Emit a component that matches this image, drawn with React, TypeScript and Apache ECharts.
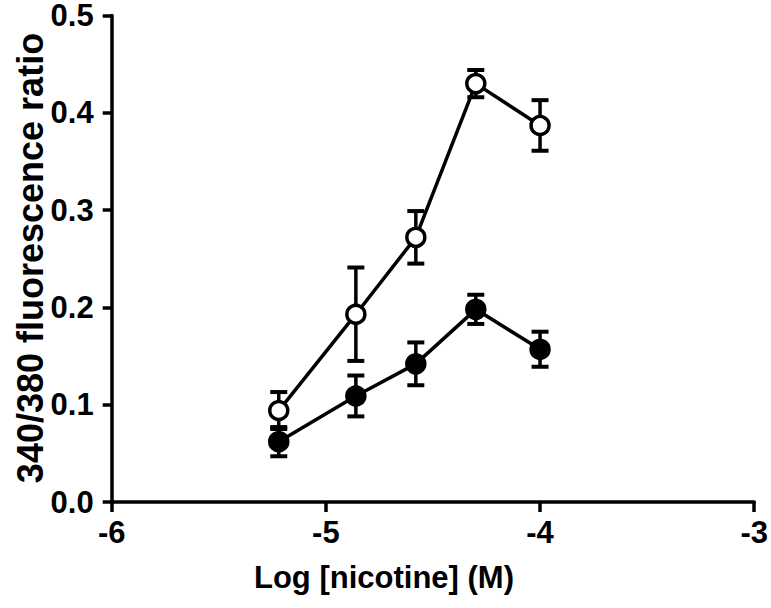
import React, { useEffect, useRef } from "react";
import * as echarts from "echarts";

const xValues = [-5.22, -4.86, -4.58, -4.3, -4.0];
const openMean = [0.094, 0.193, 0.272, 0.43, 0.387];
const openErr = [0.019, 0.048, 0.027, 0.014, 0.026];
const filledMean = [0.062, 0.109, 0.142, 0.198, 0.157];
const filledErr = [0.015, 0.021, 0.022, 0.015, 0.018];
const xTitle = "Log [nicotine] (M)";
const yTitle = "340/380 fluorescence ratio";

const FONT = '"Liberation Sans", Arial, sans-serif';

function errorSeries(mean: number[], err: number[]) {
  const data = xValues.map((x, i) => [x, mean[i] - err[i], mean[i] + err[i]]);
  return {
    type: "custom",
    z: 1,
    silent: true,
    data,
    renderItem: (params: any, api: any) => {
      const x = api.value(0);
      const lo = api.coord([x, api.value(1)]);
      const hi = api.coord([x, api.value(2)]);
      const hw = 8.5;
      const style = { stroke: "#000", lineWidth: 4, fill: "none" };
      return {
        type: "group",
        children: [
          { type: "line", shape: { x1: lo[0], y1: lo[1], x2: hi[0], y2: hi[1] }, style: { stroke: "#000", lineWidth: 3.5 } },
          { type: "line", shape: { x1: lo[0] - hw, y1: lo[1], x2: lo[0] + hw, y2: lo[1] }, style },
          { type: "line", shape: { x1: hi[0] - hw, y1: hi[1], x2: hi[0] + hw, y2: hi[1] }, style },
        ],
      };
    },
  };
}

export default function App() {
  const ref = useRef<HTMLDivElement>(null);
  useEffect(() => {
    if (!ref.current) return;
    const chart = echarts.init(ref.current, null, { renderer: "svg" });
    const labelStyle = {
      color: "#000",
      fontFamily: FONT,
      fontWeight: "bold" as const,
      fontSize: 31,
      lineHeight: 26,
    };
    chart.setOption({
      animation: false,
      backgroundColor: "#fff",
      grid: { left: 111.7, right: 16, top: 14, bottom: 106, containLabel: false },
      xAxis: {
        type: "value",
        min: -6,
        max: -3,
        interval: 1,
        axisLine: { show: true, onZero: false, lineStyle: { color: "#000", width: 3.5 } },
        axisTick: { show: true, length: 10, lineStyle: { color: "#000", width: 3.5 } },
        axisLabel: { ...labelStyle, margin: 17 },
        splitLine: { show: false },
      },
      yAxis: {
        type: "value",
        min: 0,
        max: 0.5,
        interval: 0.1,
        axisLine: { show: true, onZero: false, lineStyle: { color: "#000", width: 3.5 } },
        axisTick: { show: true, length: 9, lineStyle: { color: "#000", width: 3.5 } },
        axisLabel: { ...labelStyle, margin: 18, formatter: (v: number) => v.toFixed(1) },
        splitLine: { show: false },
      },
      graphic: [
        {
          type: "text",
          x: 384,
          y: 577,
          style: {
            text: xTitle,
            fill: "#000",
            font: `bold 31px ${FONT}`,
            align: "center",
            verticalAlign: "middle",
          },
        },
        {
          type: "text",
          x: 30,
          y: 258,
          rotation: Math.PI / 2,
          style: {
            text: yTitle,
            fill: "#000",
            font: `bold 36px ${FONT}`,
            align: "center",
            verticalAlign: "middle",
          },
        },
      ],
      series: [
        errorSeries(filledMean, filledErr),
        errorSeries(openMean, openErr),
        {
          type: "line",
          z: 3,
          data: xValues.map((x, i) => [x, filledMean[i]]),
          symbol: "circle",
          symbolSize: 18,
          showAllSymbol: true,
          lineStyle: { color: "#000", width: 3.5 },
          itemStyle: { color: "#000", borderColor: "#000", borderWidth: 3.5 },
        },
        {
          type: "line",
          z: 4,
          data: xValues.map((x, i) => [x, openMean[i]]),
          symbol: "circle",
          symbolSize: 18,
          showAllSymbol: true,
          lineStyle: { color: "#000", width: 3.5 },
          itemStyle: { color: "#fff", borderColor: "#000", borderWidth: 3.5 },
        },
      ],
    });
    return () => chart.dispose();
  }, []);
  return (
    <div
      ref={ref}
      style={{ position: "fixed", left: 0, top: 0, width: 771, height: 608 }}
    />
  );
}
